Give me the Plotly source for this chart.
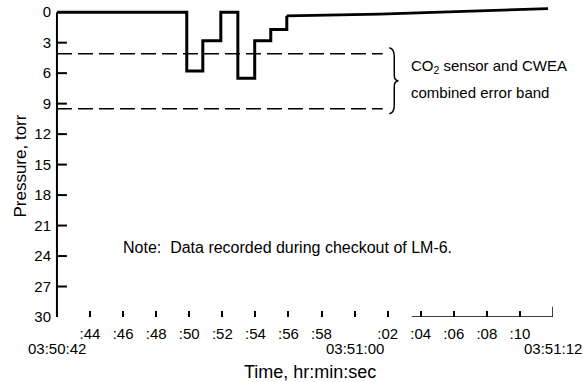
import plotly.graph_objects as go

# Time is in seconds after 03:50:42; pressure in torr (axis runs downward)
step_times = [0, 7.85, 8.82, 9.91, 10.94, 11.96, 12.93, 13.9]
step_values = [0, 5.8, 2.8, 0, 6.5, 2.8, 1.7, 0.36]

drift_times = [13.9, 19.5, 29.7]
drift_values = [0.36, 0.2, -0.36]

band_times = [0, 19.7]
band_levels = [4.1, 9.5]

tick_secs = [2, 4, 6, 8, 10, 12, 14, 16, 18, 20, 22, 24, 26, 28]
tick_text = [":44", ":46", ":48", ":50", ":52", ":54", ":56", ":58", "",
             ":02", ":04", ":06", ":08", ":10"]
major_secs = [0, 18, 30]
major_text = ["03:50:42", "03:51:00", "03:51:12"]

y_ticks = [0, 3, 6, 9, 12, 15, 18, 21, 24, 27, 30]

FONT = "Liberation Sans, Arial, sans-serif"
X_RANGE = [-0.3, 30]
Y_RANGE = [30, -1.2]
TICK_SPAN = 0.6  # length of the inward pressure ticks, in seconds of x

fig = go.Figure()

# left axis line at t = 0 with inward ticks at the interior pressure levels
ax_x = [0, 0, None]
ax_y = [y_ticks[0], y_ticks[-1], None]
for v in y_ticks[1:-1]:
    ax_x += [0, TICK_SPAN, None]
    ax_y += [v, v, None]
fig.add_trace(go.Scatter(
    x=ax_x, y=ax_y, mode="lines", line=dict(color="black", width=2),
    showlegend=False, hoverinfo="skip", cliponaxis=False))

fig.add_trace(go.Scatter(
    x=step_times, y=step_values, mode="lines", line_shape="hv",
    line=dict(color="black", width=3), showlegend=False, hoverinfo="skip"))
fig.add_trace(go.Scatter(
    x=drift_times, y=drift_values, mode="lines",
    line=dict(color="black", width=2.8), showlegend=False, hoverinfo="skip"))

for lvl in band_levels:
    fig.add_trace(go.Scatter(
        x=band_times, y=[lvl, lvl], mode="lines",
        line=dict(color="black", width=1.5, dash="15px,6px"),
        showlegend=False, hoverinfo="skip"))

# partial bottom axis stretch ending in a short upright
fig.add_shape(type="path", xref="x", yref="y",
              path="M 21.45,30 L 30,30 L 30,29",
              line=dict(color="black", width=1.5))

# brace grouping the error band
bx = 20.1
fig.add_shape(type="path", xref="x", yref="y",
              path=(f"M {bx},3.5 Q {bx+0.3},3.6 {bx+0.3},4.4 L {bx+0.3},6.2 "
                    f"Q {bx+0.3},6.7 {bx+0.55},6.75 Q {bx+0.3},6.8 {bx+0.3},7.3 "
                    f"L {bx+0.3},9.1 Q {bx+0.3},9.9 {bx},10.0"),
              line=dict(color="black", width=1.5))

annotations = [
    dict(text="CO<sub>2</sub> sensor and CWEA", x=21.3, y=5.35, xref="x", yref="y",
         xanchor="left", yanchor="middle", showarrow=False,
         font=dict(size=15, family=FONT, color="black")),
    dict(text="combined error band", x=21.3, y=7.95, xref="x", yref="y",
         xanchor="left", yanchor="middle", showarrow=False,
         font=dict(size=15, family=FONT, color="black")),
    dict(text="Note:  Data recorded during checkout of LM-6.", x=3.85, y=23.2,
         xref="x", yref="y", xanchor="left", yanchor="middle", showarrow=False,
         font=dict(size=16, family=FONT, color="black")),
    dict(text="Pressure, torr", x=-0.062, y=15.1, xref="paper", yref="y",
         textangle=-90, xanchor="center", yanchor="middle", showarrow=False,
         font=dict(size=17, family=FONT, color="black")),
    dict(text="Time, hr:min:sec", x=15.3, y=-0.1735, xref="x", yref="paper",
         xanchor="center", yanchor="middle", showarrow=False,
         font=dict(size=18, family=FONT, color="black")),
]
for s, t in zip(major_secs, major_text):
    annotations.append(dict(text=t, x=s, y=-0.099, xref="x", yref="paper",
                            xanchor="center", yanchor="middle", showarrow=False,
                            font=dict(size=15, family=FONT, color="black")))

fig.update_layout(
    width=587, height=382,
    margin=dict(l=52, r=34, t=0, b=65),
    paper_bgcolor="white", plot_bgcolor="white",
    font=dict(family=FONT, color="black"),
    annotations=annotations,
    xaxis=dict(range=X_RANGE, showgrid=False, zeroline=False, showline=False,
               tickmode="array", tickvals=tick_secs, ticktext=tick_text,
               ticks="inside", ticklen=6, tickwidth=1.5, tickcolor="black",
               ticklabelstandoff=6, tickfont=dict(size=15, family=FONT)),
    yaxis=dict(range=Y_RANGE, showgrid=False, zeroline=False, showline=False,
               tickmode="array", tickvals=y_ticks, ticks="",
               tickfont=dict(size=15, family=FONT)),
)

fig.write_html("out.html")
